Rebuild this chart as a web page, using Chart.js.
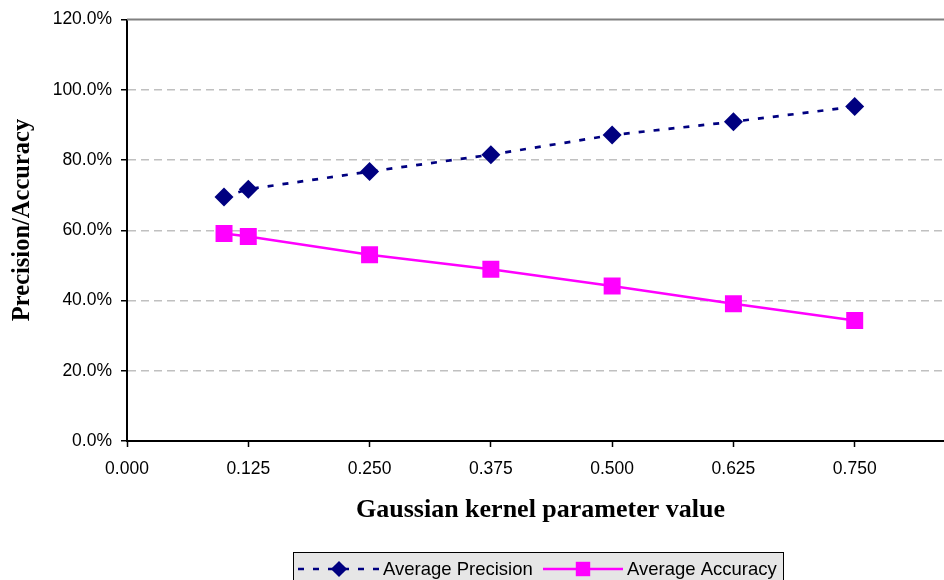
<!DOCTYPE html>
<html>
<head>
<meta charset="utf-8">
<script src="https://cdn.jsdelivr.net/npm/chart.js@4.4.1/dist/chart.umd.min.js"></script>
<style>
  html, body { margin: 0; padding: 0; background: #fff; overflow: hidden; }
  #wrap { width: 988px; height: 580px; }
</style>
</head>
<body>
<div id="wrap"><canvas id="grafico" width="988" height="580"></canvas></div>
<script>
const kernelValues = [0.1, 0.125, 0.25, 0.375, 0.5, 0.625, 0.75];
const avgPrecision = [69.5, 71.7, 76.7, 81.5, 87.1, 90.9, 95.2];
const avgAccuracy = [59.1, 58.2, 53.0, 48.9, 44.1, 39.1, 34.3];
const xTicks = [0, 0.125, 0.25, 0.375, 0.5, 0.625, 0.75, 0.875];
const yTicks = [0, 20, 40, 60, 80, 100, 120];
const xTitle = 'Gaussian kernel parameter value';
const yTitle = 'Precision/Accuracy';

const sans = '"Liberation Sans", Arial, sans-serif';
const serif = '"Liberation Serif", "Times New Roman", serif';

function toPoints(values) {
    return kernelValues.map((x, i) => ({ x: x, y: values[i] }));
}

// plot top border, axis titles and the boxed legend
const frameAndLegend = {
    id: 'frameAndLegend',
    afterDatasetsDraw(chart) {
        const { ctx, chartArea } = chart;
        ctx.save();
        ctx.strokeStyle = '#808080';
        ctx.lineWidth = 2;
        ctx.beginPath();
        ctx.moveTo(chartArea.left, chartArea.top);
        ctx.lineTo(chartArea.right, chartArea.top);
        ctx.stroke();
        ctx.restore();
    },
    afterDraw(chart) {
        const ctx = chart.ctx;
        ctx.save();
        ctx.fillStyle = '#000';
        ctx.font = 'bold 26px ' + serif;
        ctx.textAlign = 'center';
        ctx.textBaseline = 'alphabetic';
        ctx.fillText(xTitle, 540.5, 517);

        ctx.save();
        ctx.translate(29, 220);
        ctx.rotate(-Math.PI / 2);
        ctx.font = 'bold 24.5px ' + serif;
        ctx.fillText(yTitle, 0, 0);
        ctx.restore();

        ctx.fillStyle = '#e6e6e6';
        ctx.fillRect(293.5, 552.5, 490, 40);
        ctx.strokeStyle = '#000';
        ctx.lineWidth = 1;
        ctx.strokeRect(293.5, 552.5, 490, 40);

        const items = [
            { ds: chart.data.datasets[0], x0: 298, x1: 380, tx: 383 },
            { ds: chart.data.datasets[1], x0: 543, x1: 623, tx: 627 }
        ];
        const y = 569;
        items.forEach(it => {
            ctx.save();
            ctx.strokeStyle = it.ds.borderColor;
            ctx.lineWidth = it.ds.borderWidth;
            ctx.setLineDash(it.ds.borderDash || []);
            ctx.beginPath();
            ctx.moveTo(it.x0, y);
            ctx.lineTo(it.x1, y);
            ctx.stroke();
            ctx.restore();
            ctx.fillStyle = it.ds.pointBackgroundColor;
            ctx.strokeStyle = it.ds.pointBorderColor;
            Chart.helpers.drawPoint(ctx, {
                pointStyle: it.ds.pointStyle,
                radius: it.ds.pointRadius * 0.85,
                borderWidth: 0
            }, (it.x0 + it.x1) / 2, y);
            ctx.fillStyle = '#000';
            ctx.font = '18.5px ' + sans;
            ctx.textBaseline = 'middle';
            ctx.textAlign = 'left';
            ctx.fillText(it.ds.label, it.tx, y + 1);
        });
        ctx.restore();
    }
};

const ctx = document.getElementById('grafico').getContext('2d');
const grafico = new Chart(ctx, {
    type: 'scatter',
    data: {
        datasets: [{
            label: 'Average Precision',
            data: toPoints(avgPrecision),
            showLine: true,
            borderColor: '#000080',
            borderWidth: 2.7,
            borderDash: [6, 9],
            pointStyle: 'rectRot',
            pointRadius: 9.5,
            pointBackgroundColor: '#000080',
            pointBorderColor: '#000080',
            pointBorderWidth: 0
        }, {
            label: 'Average Accuracy',
            data: toPoints(avgAccuracy),
            showLine: true,
            borderColor: '#ff00ff',
            borderWidth: 2.5,
            pointStyle: 'rect',
            pointRadius: 12,
            pointBackgroundColor: '#ff00ff',
            pointBorderColor: '#ff00ff',
            pointBorderWidth: 0
        }]
    },
    options: {
        responsive: false,
        animation: false,
        layout: { padding: { top: 18, right: 4, bottom: 58, left: 0 } },
        plugins: {
            legend: { display: false },
            tooltip: { enabled: false }
        },
        scales: {
            x: {
                type: 'linear',
                min: 0,
                max: 0.875,
                afterBuildTicks: s => { s.ticks = xTicks.map(v => ({ value: v })); },
                afterFit: s => { s.height = 81; },
                ticks: {
                    autoSkip: false,
                    maxRotation: 0,
                    padding: 12,
                    color: '#000',
                    font: { family: sans, size: 17.5 },
                    callback: v => (v > 0.8 ? '' : v.toFixed(3))
                },
                grid: { drawOnChartArea: false, drawTicks: true, tickLength: 6, tickColor: '#000', tickWidth: 1.5 },
                border: { color: '#000', width: 2 }
            },
            y: {
                min: 0,
                max: 120,
                afterBuildTicks: s => { s.ticks = yTicks.map(v => ({ value: v })); },
                afterFit: s => { s.width = 127; },
                ticks: {
                    padding: 9,
                    color: '#000',
                    font: { family: sans, size: 17.5 },
                    callback: v => v.toFixed(1) + '%'
                },
                grid: {
                    color: c => (c.tick && (c.tick.value === 0 || c.tick.value === 120) ? 'rgba(0,0,0,0)' : '#c0c0c0'),
                    lineWidth: 1.5,
                    tickLength: 6,
                    tickColor: '#000',
                    tickWidth: 1.5,
                    tickBorderDash: []
                },
                border: { color: '#000', width: 2, dash: [8, 5] }
            }
        }
    },
    plugins: [frameAndLegend]
});
</script>
</body>
</html>
